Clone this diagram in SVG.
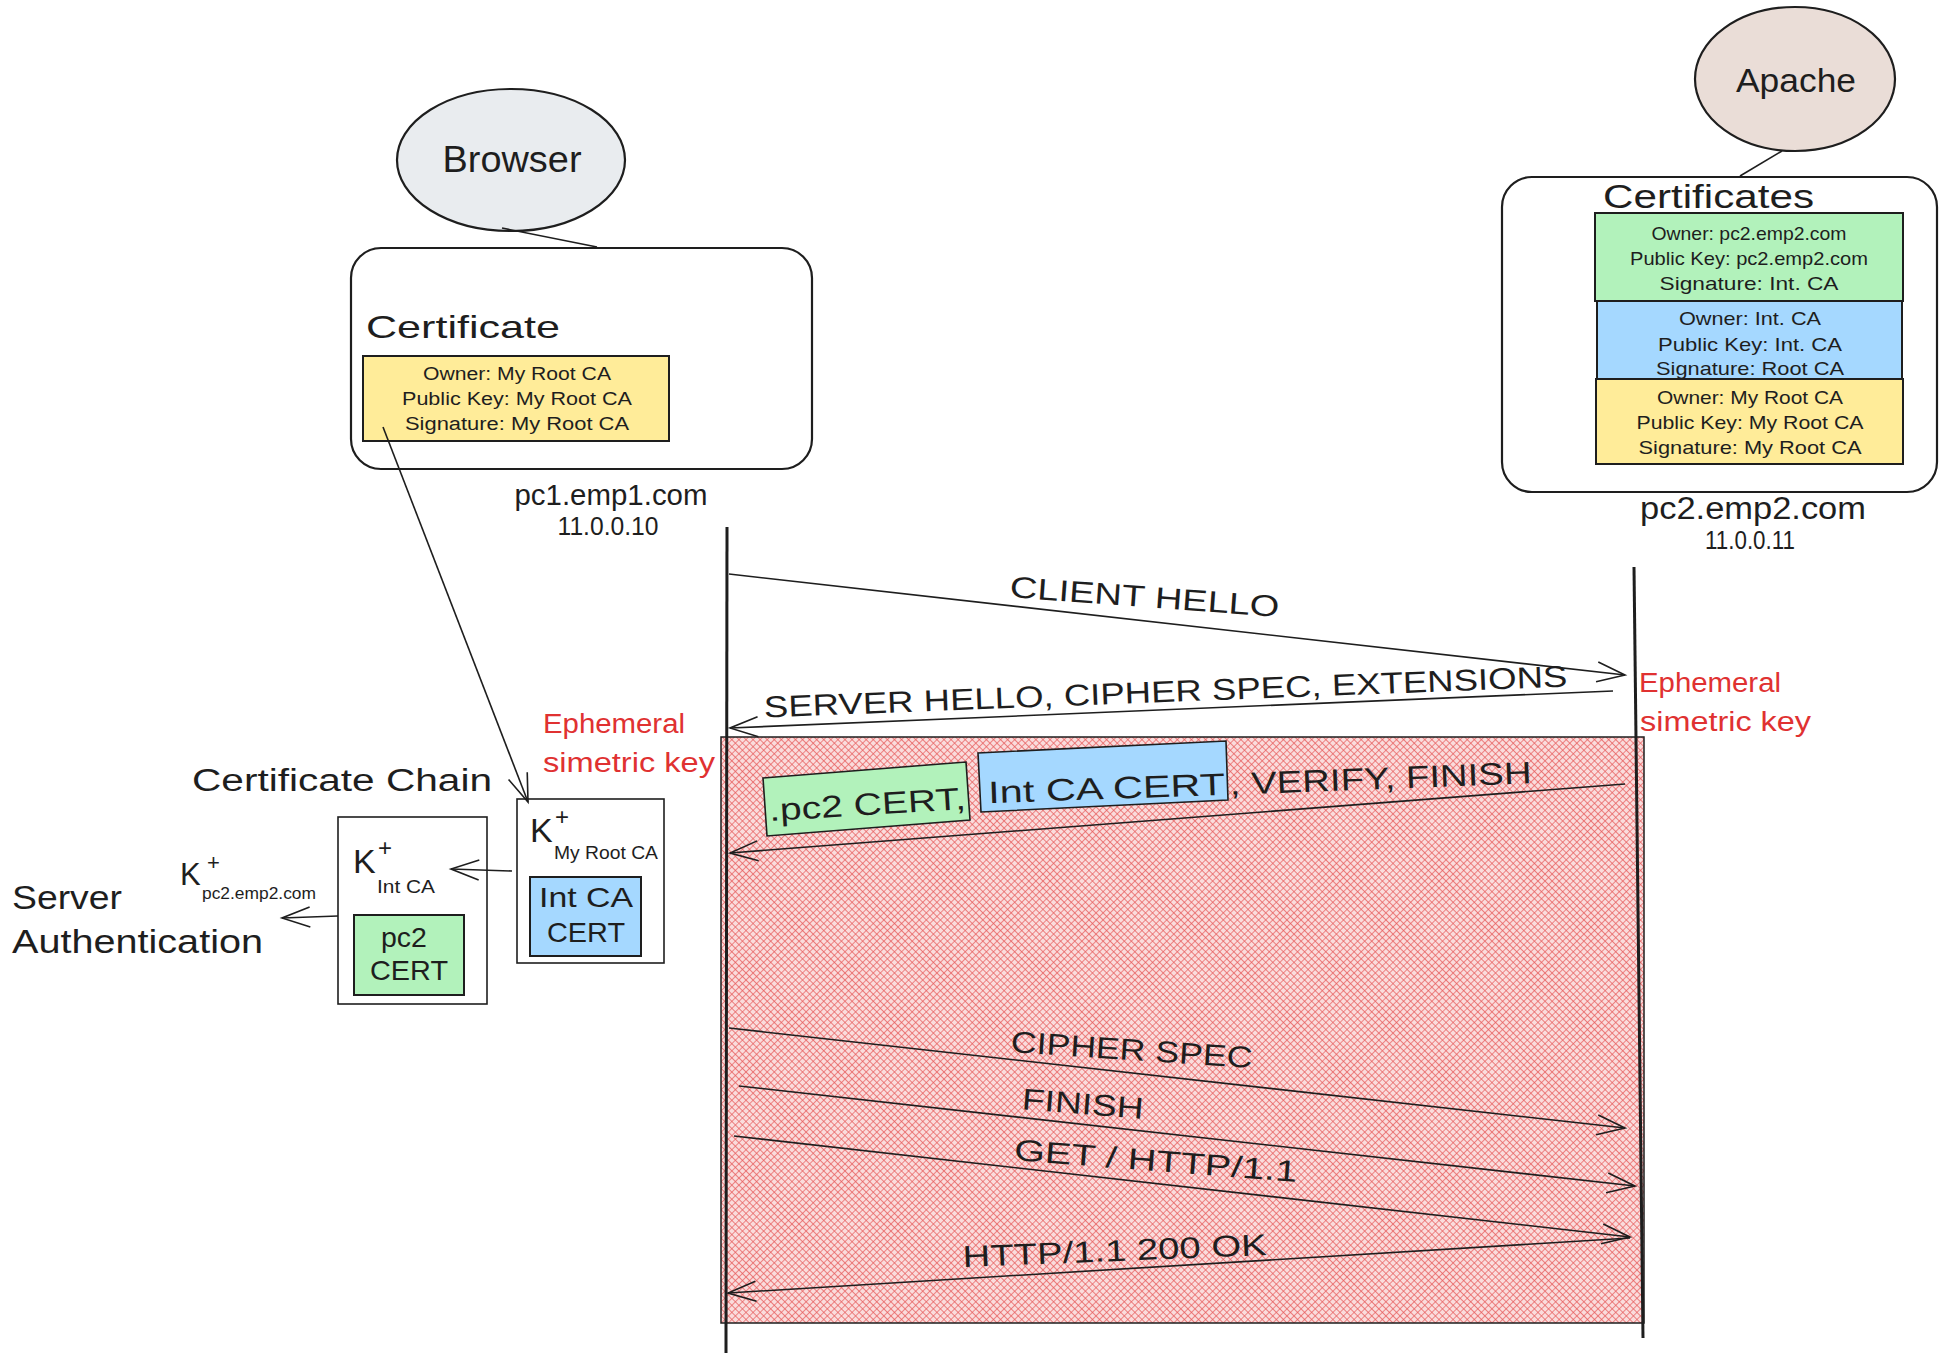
<svg xmlns="http://www.w3.org/2000/svg" width="1945" height="1363" viewBox="0 0 1945 1363">
<defs>
<style>
.t{font-family:"Liberation Sans",Arial,sans-serif;fill:#1e1e1e}
.red{fill:#e03131}
.ln{stroke:#1e1e1e;stroke-width:1.6;fill:none}
.life{stroke:#1e1e1e;stroke-width:3;fill:none}
.cont{stroke:#1e1e1e;stroke-width:2.2;fill:#ffffff}
.cb{stroke:#1e1e1e;stroke-width:2}
.sb{stroke:#1e1e1e;stroke-width:1.6;fill:#ffffff}
</style>
<pattern id="hatch" width="5" height="5" patternUnits="userSpaceOnUse" patternTransform="rotate(45)">
<rect width="5" height="5" fill="#fadcdc"/>
<path d="M0 0 L0 5 M0 0 L5 0" stroke="#e03131" stroke-width="1.4" opacity="0.75"/>
</pattern>
<marker id="ah" markerUnits="userSpaceOnUse" markerWidth="32" markerHeight="24" refX="28" refY="10" orient="auto" overflow="visible">
<path d="M0 0 L28 10 L0 20" fill="none" stroke="#1e1e1e" stroke-width="1.6"/>
</marker>
</defs>
<rect width="1945" height="1363" fill="#ffffff"/>

<!-- encrypted region -->
<g id="tls-region">
<rect x="721" y="737" width="923" height="586" fill="url(#hatch)" stroke="#1e1e1e" stroke-width="1.5"/>
</g>

<!-- lifelines -->
<g id="lifelines">
<line class="life" x1="727" y1="527" x2="726" y2="1353"/>
<line class="life" x1="1634" y1="567" x2="1643" y2="1338"/>
</g>

<!-- Browser node -->
<g id="browser">
<ellipse cx="511" cy="160" rx="114" ry="71" fill="#e9ecef" stroke="#1e1e1e" stroke-width="2.2"/>
<text class="t" x="512" y="172" font-size="36" text-anchor="middle" textLength="139" lengthAdjust="spacingAndGlyphs">Browser</text>
</g>

<g id="browser-cert">
<rect class="cont" x="351" y="248" width="461" height="221" rx="30"/>
<text class="t" x="366" y="338" font-size="32" textLength="194" lengthAdjust="spacingAndGlyphs">Certificate</text>
<rect class="cb" x="363" y="356" width="306" height="85" fill="#ffec99"/>
<text class="t" x="517" y="380" font-size="18" text-anchor="middle" textLength="188" lengthAdjust="spacingAndGlyphs">Owner: My Root CA</text>
<text class="t" x="517" y="405" font-size="18" text-anchor="middle" textLength="230" lengthAdjust="spacingAndGlyphs">Public Key: My Root CA</text>
<text class="t" x="517" y="430" font-size="18" text-anchor="middle" textLength="224" lengthAdjust="spacingAndGlyphs">Signature: My Root CA</text>
<text class="t" x="611" y="505" font-size="30" text-anchor="middle" textLength="193" lengthAdjust="spacingAndGlyphs">pc1.emp1.com</text>
<text class="t" x="608" y="535" font-size="25" text-anchor="middle" textLength="101" lengthAdjust="spacingAndGlyphs">11.0.0.10</text>
</g>

<!-- Apache node -->
<g id="apache">
<ellipse cx="1795" cy="79" rx="100" ry="72" fill="#eaddd7" stroke="#1e1e1e" stroke-width="2.2"/>
<text class="t" x="1796" y="92" font-size="33" text-anchor="middle" textLength="120" lengthAdjust="spacingAndGlyphs">Apache</text>
</g>

<g id="apache-certs">
<rect class="cont" x="1502" y="177" width="435" height="315" rx="30"/>
<text class="t" x="1603" y="208" font-size="33" textLength="211" lengthAdjust="spacingAndGlyphs">Certificates</text>
<rect class="cb" x="1595" y="213" width="308" height="88" fill="#b2f2bb"/>
<text class="t" x="1749" y="240" font-size="19" text-anchor="middle" textLength="195" lengthAdjust="spacingAndGlyphs">Owner: pc2.emp2.com</text>
<text class="t" x="1749" y="265" font-size="19" text-anchor="middle" textLength="238" lengthAdjust="spacingAndGlyphs">Public Key: pc2.emp2.com</text>
<text class="t" x="1749" y="290" font-size="19" text-anchor="middle" textLength="179" lengthAdjust="spacingAndGlyphs">Signature: Int. CA</text>
<rect class="cb" x="1597" y="301" width="305" height="78" fill="#a5d8ff"/>
<text class="t" x="1750" y="325" font-size="19" text-anchor="middle" textLength="142" lengthAdjust="spacingAndGlyphs">Owner: Int. CA</text>
<text class="t" x="1750" y="351" font-size="19" text-anchor="middle" textLength="184" lengthAdjust="spacingAndGlyphs">Public Key: Int. CA</text>
<text class="t" x="1750" y="375" font-size="19" text-anchor="middle" textLength="188" lengthAdjust="spacingAndGlyphs">Signature: Root CA</text>
<rect class="cb" x="1596" y="379" width="307" height="85" fill="#ffec99"/>
<text class="t" x="1750" y="404" font-size="19" text-anchor="middle" textLength="186" lengthAdjust="spacingAndGlyphs">Owner: My Root CA</text>
<text class="t" x="1750" y="429" font-size="19" text-anchor="middle" textLength="227" lengthAdjust="spacingAndGlyphs">Public Key: My Root CA</text>
<text class="t" x="1750" y="454" font-size="19" text-anchor="middle" textLength="223" lengthAdjust="spacingAndGlyphs">Signature: My Root CA</text>
<text class="t" x="1753" y="519" font-size="31" text-anchor="middle" textLength="226" lengthAdjust="spacingAndGlyphs">pc2.emp2.com</text>
<text class="t" x="1750" y="549" font-size="25" text-anchor="middle" textLength="90" lengthAdjust="spacingAndGlyphs">11.0.0.11</text>
</g>

<!-- Ephemeral key notes -->
<g id="ephemeral-left">
<text class="t red" x="543" y="733" font-size="27" textLength="142" lengthAdjust="spacingAndGlyphs">Ephemeral</text>
<text class="t red" x="543" y="772" font-size="27" textLength="172" lengthAdjust="spacingAndGlyphs">simetric key</text>
</g>
<g id="ephemeral-right">
<text class="t red" x="1639" y="692" font-size="27" textLength="142" lengthAdjust="spacingAndGlyphs">Ephemeral</text>
<text class="t red" x="1640" y="731" font-size="27" textLength="171" lengthAdjust="spacingAndGlyphs">simetric key</text>
</g>

<!-- Certificate chain -->
<g id="chain-title">
<text class="t" x="192" y="791" font-size="31" textLength="300" lengthAdjust="spacingAndGlyphs">Certificate Chain</text>
</g>

<g id="root-ca-key">
<rect class="sb" x="517" y="799" width="147" height="164"/>
<text class="t" x="530" y="842" font-size="34">K</text>
<text class="t" x="555" y="825" font-size="24">+</text>
<text class="t" x="554" y="859" font-size="19" textLength="104" lengthAdjust="spacingAndGlyphs">My Root CA</text>
<rect class="cb" x="530" y="877" width="111" height="79" fill="#a5d8ff"/>
<text class="t" x="586" y="907" font-size="28" text-anchor="middle" textLength="94" lengthAdjust="spacingAndGlyphs">Int CA</text>
<text class="t" x="586" y="942" font-size="28" text-anchor="middle" textLength="78" lengthAdjust="spacingAndGlyphs">CERT</text>
</g>

<g id="int-ca-key">
<rect class="sb" x="338" y="817" width="149" height="187"/>
<text class="t" x="353" y="873" font-size="34">K</text>
<text class="t" x="378" y="856" font-size="24">+</text>
<text class="t" x="377" y="893" font-size="19" textLength="58" lengthAdjust="spacingAndGlyphs">Int CA</text>
<rect class="cb" x="354" y="915" width="110" height="80" fill="#b2f2bb"/>
<text class="t" x="404" y="947" font-size="28" text-anchor="middle" textLength="46" lengthAdjust="spacingAndGlyphs">pc2</text>
<text class="t" x="409" y="980" font-size="28" text-anchor="middle" textLength="78" lengthAdjust="spacingAndGlyphs">CERT</text>
</g>

<g id="server-key">
<text class="t" x="180" y="885" font-size="31">K</text>
<text class="t" x="207" y="870" font-size="22">+</text>
<text class="t" x="202" y="899" font-size="17" textLength="114" lengthAdjust="spacingAndGlyphs">pc2.emp2.com</text>
</g>

<g id="server-auth">
<text class="t" x="12" y="909" font-size="33" textLength="110" lengthAdjust="spacingAndGlyphs">Server</text>
<text class="t" x="12" y="953" font-size="33" textLength="251" lengthAdjust="spacingAndGlyphs">Authentication</text>
</g>

<!-- connectors -->
<g id="connectors">
<line class="ln" x1="502" y1="228" x2="597" y2="247" stroke-width="2"/>
<line class="ln" x1="1782" y1="151" x2="1740" y2="176" stroke-width="2"/>
<line class="ln" x1="383" y1="427" x2="528" y2="802" marker-end="url(#ah)"/>
<line class="ln" x1="512" y1="871" x2="451" y2="869" marker-end="url(#ah)"/>
<line class="ln" x1="338" y1="916" x2="282" y2="918" marker-end="url(#ah)"/>

<line class="ln" x1="729" y1="574" x2="1625" y2="675" marker-end="url(#ah)"/>
<line class="ln" x1="1613" y1="691" x2="730" y2="728" marker-end="url(#ah)"/>
<line class="ln" x1="1625" y1="784" x2="730" y2="853" marker-end="url(#ah)"/>
<line class="ln" x1="729" y1="1028" x2="1625" y2="1128" marker-end="url(#ah)"/>
<line class="ln" x1="739" y1="1086" x2="1635" y2="1186" marker-end="url(#ah)"/>
<line class="ln" x1="734" y1="1136" x2="1630" y2="1237" marker-end="url(#ah)"/>
<line class="ln" x1="1630" y1="1238" x2="728" y2="1293" marker-end="url(#ah)"/>
</g>

<!-- message labels -->
<g id="msg-client-hello">
<text class="t" x="1144" y="607" font-size="30" text-anchor="middle" textLength="270" lengthAdjust="spacingAndGlyphs" transform="rotate(4.2 1144 607)">CLIENT HELLO</text>
</g>
<g id="msg-server-hello">
<text class="t" x="1166" y="702" font-size="30" text-anchor="middle" textLength="804" lengthAdjust="spacingAndGlyphs" transform="rotate(-2.2 1166 702)">SERVER HELLO, CIPHER SPEC, EXTENSIONS</text>
</g>
<g id="msg-certs">
<polygon points="763,778 966,762 970,820 767,836" fill="#b2f2bb" stroke="#1e1e1e" stroke-width="1.6"/>
<polygon points="978,753 1226,741 1228,800 981,812" fill="#a5d8ff" stroke="#1e1e1e" stroke-width="1.6"/>
<text class="t" x="868" y="815" font-size="31" text-anchor="middle" textLength="197" lengthAdjust="spacingAndGlyphs" transform="rotate(-3.5 868 815)">.pc2 CERT,</text>
<text class="t" x="1107" y="799" font-size="31" text-anchor="middle" textLength="237" lengthAdjust="spacingAndGlyphs" transform="rotate(-2 1107 799)">Int CA CERT</text>
<text class="t" x="1381" y="789" font-size="31" text-anchor="middle" textLength="302" lengthAdjust="spacingAndGlyphs" transform="rotate(-2.2 1381 789)">, VERIFY, FINISH</text>
</g>
<g id="msg-cipher-spec">
<text class="t" x="1131" y="1060" font-size="30" text-anchor="middle" textLength="242" lengthAdjust="spacingAndGlyphs" transform="rotate(3.8 1131 1060)">CIPHER SPEC</text>
</g>
<g id="msg-finish">
<text class="t" x="1082" y="1114" font-size="30" text-anchor="middle" textLength="122" lengthAdjust="spacingAndGlyphs" transform="rotate(4.5 1082 1114)">FINISH</text>
</g>
<g id="msg-get">
<text class="t" x="1155" y="1171" font-size="30" text-anchor="middle" textLength="284" lengthAdjust="spacingAndGlyphs" transform="rotate(4.4 1155 1171)">GET / HTTP/1.1</text>
</g>
<g id="msg-http-ok">
<text class="t" x="1115" y="1261" font-size="30" text-anchor="middle" textLength="304" lengthAdjust="spacingAndGlyphs" transform="rotate(-2.3 1115 1261)">HTTP/1.1 200 OK</text>
</g>
</svg>
